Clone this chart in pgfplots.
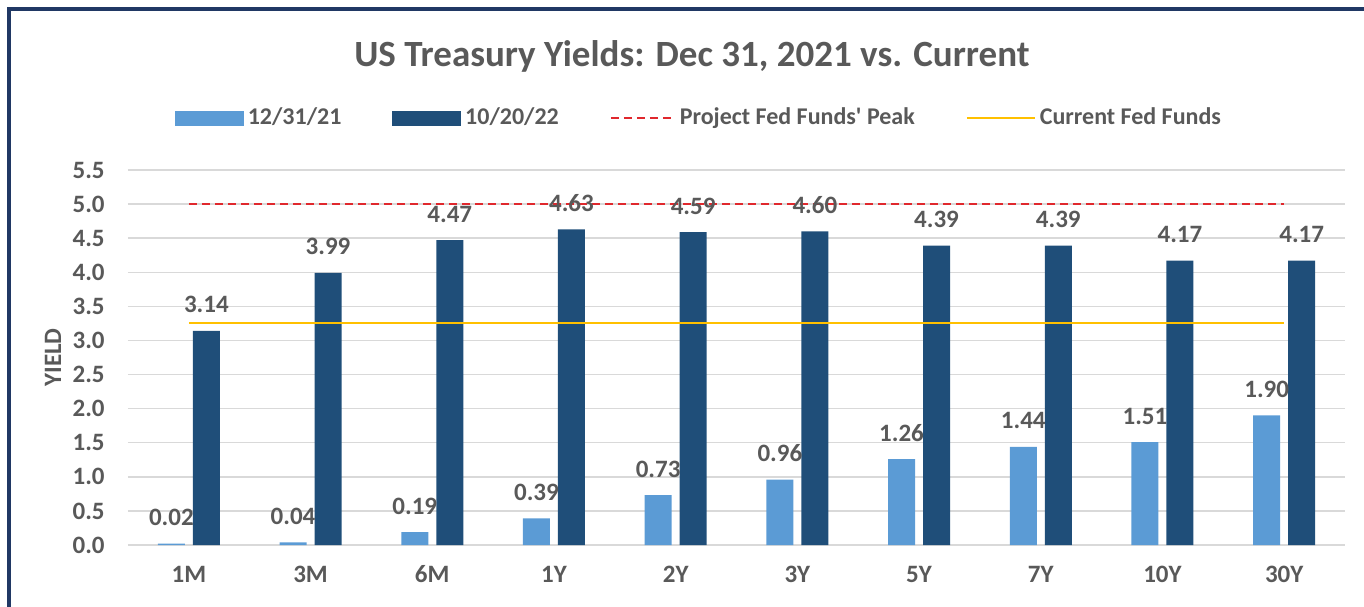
\documentclass[border=0pt]{standalone}
\usepackage{fontspec}
\setmainfont{Carlito}
\usepackage{pgfplots}
\pgfplotsset{compat=1.18}
\definecolor{lblue}{HTML}{5B9BD5}
\definecolor{dblue}{HTML}{1F4E79}
\definecolor{tgray}{HTML}{595959}
\definecolor{gridc}{HTML}{D9D9D9}
\definecolor{fedred}{HTML}{E0282D}
\definecolor{fedyel}{HTML}{FFC000}
\definecolor{framec}{HTML}{203864}
\begin{document}
\begin{tikzpicture}
\begin{axis}[
  at={(0pt,0pt)}, anchor=south west,
  scale only axis, width=608.5pt, height=187.5pt,
  xmin=-0.5, xmax=9.5, ymin=0, ymax=5.5,
  axis line style={draw=none},
  xtick={0,...,9},
  xticklabels={1M,3M,6M,1Y,2Y,3Y,5Y,7Y,10Y,30Y},
  ytick={0,0.5,...,5.5},
  major tick length=0pt,
  ymajorgrids, grid style={gridc, line width=0.75pt},
  yticklabel={\pgfmathprintnumber[fixed, fixed zerofill, precision=1, assume math mode=true]{\tick}},
  tick label style={font=\fontsize{12.5}{15}\selectfont\bfseries, text=tgray},
  yticklabel style={anchor=east, inner sep=0pt, xshift=-11.5pt},
  xticklabel style={anchor=base, inner sep=0pt, yshift=-18.5pt},
  title={US Treasury Yields: Dec 31, 2021 vs. Current},
  title style={at={(axis description cs:0.4634,1.245)}, anchor=base, inner sep=0pt,
    font=\fontsize{18.5}{22}\selectfont\bfseries, text=tgray},
  ylabel={YIELD},
  every axis y label/.style={at={(axis description cs:0,0.5)}, xshift=-37.5pt, rotate=90, anchor=center,
    font=\fontsize{12.5}{15}\selectfont\bfseries, text=tgray},
  legend columns=4,
  legend style={at={(axis description cs:0.47,1.1387)}, anchor=center, draw=none, fill=none,
    font=\fontsize{12}{14}\selectfont\bfseries, text=tgray,
    /tikz/every even column/.append style={column sep=23.5pt}},
  point meta=explicit symbolic,
  lab/.style={nodes near coords,
    every node near coord/.append style={anchor=base, xshift=#1, yshift=9pt, inner sep=0pt,
    font=\fontsize{12.5}{15}\selectfont\bfseries, text=tgray}},
]
% legend entries (in the reference's order)
\addlegendimage{legend image code/.code={\fill[lblue] (0pt,-3.5pt) rectangle (34pt,3.5pt);}}
\addlegendentry{12/31/21}
\addlegendimage{legend image code/.code={\fill[dblue] (0pt,-3.5pt) rectangle (34pt,3.5pt);}}
\addlegendentry{10/20/22}
\addlegendimage{legend image code/.code={\draw[fedred, line width=1pt, dash pattern=on 4pt off 2.5pt] (0pt,0pt) -- (32pt,0pt);}}
\addlegendentry{Project Fed Funds\textquotesingle\ Peak}
\addlegendimage{legend image code/.code={\draw[fedyel, line width=1pt] (0pt,0pt) -- (34pt,0pt);}}
\addlegendentry{Current Fed Funds}
% Project Fed Funds' Peak
\addplot[forget plot, sharp plot, no marks, fedred, line width=1pt, dash pattern=on 4pt off 2.5pt]
  coordinates {(0,5.0) (9,5.0)};
% 10/20/22
\addplot[forget plot, ybar, bar width=13.5pt, bar shift=8.75pt, fill=dblue, draw=none, lab=8.75pt]
  coordinates {(0,3.14)[3.14] (1,3.99)[3.99] (2,4.47)[4.47] (3,4.63)[4.63] (4,4.59)[4.59]
               (5,4.60)[4.60] (6,4.39)[4.39] (7,4.39)[4.39] (8,4.17)[4.17] (9,4.17)[4.17]};
% 12/31/21
\addplot[forget plot, ybar, bar width=13.5pt, bar shift=-8.75pt, fill=lblue, draw=none, lab=-8.75pt]
  coordinates {(0,0.02)[0.02] (1,0.04)[0.04] (2,0.19)[0.19] (3,0.39)[0.39] (4,0.73)[0.73]
               (5,0.96)[0.96] (6,1.26)[1.26] (7,1.44)[1.44] (8,1.51)[1.51] (9,1.90)[1.90]};
% Current Fed Funds
\addplot[forget plot, sharp plot, no marks, fedyel, line width=1pt]
  coordinates {(0,3.25) (9,3.25)};
\end{axis}
\draw[framec, line width=2pt] (-59.5pt,-45pt) -- (-59.5pt,267.75pt) -- (650pt,267.75pt);
\pgfresetboundingbox
\useasboundingbox (-64pt,-30.5pt) rectangle (618pt,272.5pt);
\end{tikzpicture}
\end{document}
